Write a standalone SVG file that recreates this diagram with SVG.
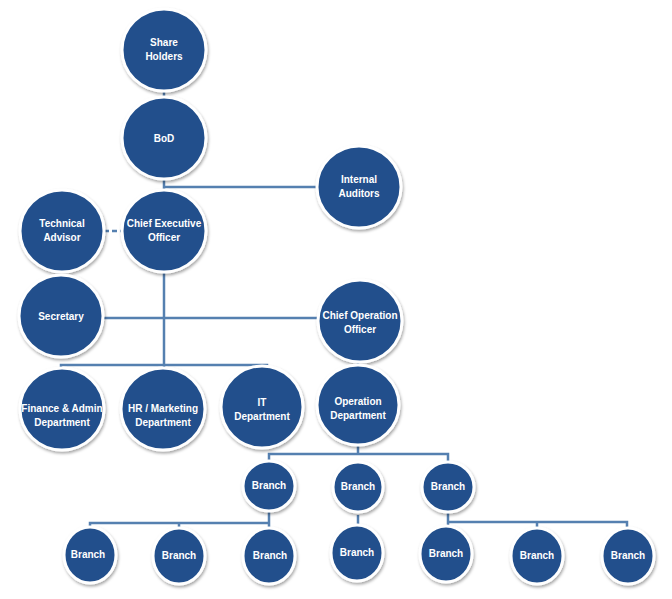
<svg xmlns="http://www.w3.org/2000/svg" width="672" height="599" viewBox="0 0 672 599">
<defs>
<filter id="sh" x="-30%" y="-30%" width="160%" height="160%">
<feDropShadow dx="1" dy="2" stdDeviation="1.6" flood-color="#000" flood-opacity="0.35"/>
</filter>
</defs>
<style>
.n{fill:#23508C;stroke:#fff;stroke-width:3;filter:url(#sh)}
.t{fill:#fff;font-family:"Liberation Sans",Arial,sans-serif;font-weight:bold;font-size:10px;text-anchor:middle}
.c{stroke:#5580B0;stroke-width:2.5;fill:none}
</style>
<rect width="672" height="599" fill="#fff"/>
<g id="connectors">
<path class="c" d="M164 91V98"/>
<path class="c" d="M164 179V191M164 187H319"/>
<path class="c" d="M104 231H122" stroke-dasharray="5 3"/>
<path class="c" d="M164 272V365"/>
<path class="c" d="M103 318H319"/>
<path class="c" d="M61 370V365H267V370M164 365V370"/>
<path class="c" d="M358 362V367"/>
<path class="c" d="M358 445V454M269 461V454H448V461"/>
<path class="c" d="M269 511V523M90 529V523H269V529M179 523V529"/>
<path class="c" d="M358 515V527"/>
<path class="c" d="M448 512V528M448 522H627V529M537 522V529"/>
</g>
<g id="shareholders"><ellipse class="n" cx="164" cy="50" rx="42" ry="41"/><text class="t" x="164" y="46">Share</text><text class="t" x="164" y="60">Holders</text></g>
<g id="bod"><ellipse class="n" cx="164" cy="138" rx="42" ry="41"/><text class="t" x="164" y="142">BoD</text></g>
<g id="internal-auditors"><ellipse class="n" cx="359" cy="187" rx="42" ry="41"/><text class="t" x="359" y="183">Internal</text><text class="t" x="359" y="197">Auditors</text></g>
<g id="ceo"><ellipse class="n" cx="164" cy="231" rx="42" ry="41"/><text class="t" x="164" y="227">Chief Executive</text><text class="t" x="164" y="241">Officer</text></g>
<g id="technical-advisor"><ellipse class="n" cx="62" cy="231" rx="42" ry="41"/><text class="t" x="62" y="227">Technical</text><text class="t" x="62" y="241">Advisor</text></g>
<g id="secretary"><ellipse class="n" cx="61" cy="316" rx="42" ry="41"/><text class="t" x="61" y="320">Secretary</text></g>
<g id="coo"><ellipse class="n" cx="360" cy="321" rx="42" ry="41"/><text class="t" x="360" y="319">Chief Operation</text><text class="t" x="360" y="333">Officer</text></g>
<g id="finance"><ellipse class="n" cx="62" cy="409" rx="42" ry="41"/><text class="t" x="62" y="412">Finance &amp; Admin</text><text class="t" x="62" y="426">Department</text></g>
<g id="hr"><ellipse class="n" cx="163" cy="409" rx="42" ry="41"/><text class="t" x="163" y="412">HR / Marketing</text><text class="t" x="163" y="426">Department</text></g>
<g id="it"><ellipse class="n" cx="262" cy="407" rx="41" ry="41"/><text class="t" x="262" y="406">IT</text><text class="t" x="262" y="420">Department</text></g>
<g id="operation"><ellipse class="n" cx="358" cy="405" rx="41" ry="40"/><text class="t" x="358" y="405">Operation</text><text class="t" x="358" y="419">Department</text></g>
<g id="branch-1"><ellipse class="n" cx="269" cy="486" rx="26" ry="25"/><text class="t" x="269" y="489">Branch</text></g>
<g id="branch-2"><ellipse class="n" cx="358" cy="487" rx="25" ry="25"/><text class="t" x="358" y="490">Branch</text></g>
<g id="branch-3"><ellipse class="n" cx="448" cy="487" rx="26" ry="25"/><text class="t" x="448" y="490">Branch</text></g>
<g id="branch-4"><ellipse class="n" cx="90" cy="555" rx="26" ry="28"/><text class="t" x="88" y="558">Branch</text></g>
<g id="branch-5"><ellipse class="n" cx="179" cy="556" rx="26" ry="28"/><text class="t" x="179" y="559">Branch</text></g>
<g id="branch-6"><ellipse class="n" cx="269" cy="556" rx="26" ry="28"/><text class="t" x="270" y="559">Branch</text></g>
<g id="branch-7"><ellipse class="n" cx="357" cy="553" rx="26" ry="28"/><text class="t" x="357" y="556">Branch</text></g>
<g id="branch-8"><ellipse class="n" cx="446" cy="554" rx="26" ry="28"/><text class="t" x="446" y="557">Branch</text></g>
<g id="branch-9"><ellipse class="n" cx="537" cy="556" rx="26" ry="28"/><text class="t" x="537" y="559">Branch</text></g>
<g id="branch-10"><ellipse class="n" cx="628" cy="556" rx="26" ry="28"/><text class="t" x="628" y="559">Branch</text></g>
</svg>
